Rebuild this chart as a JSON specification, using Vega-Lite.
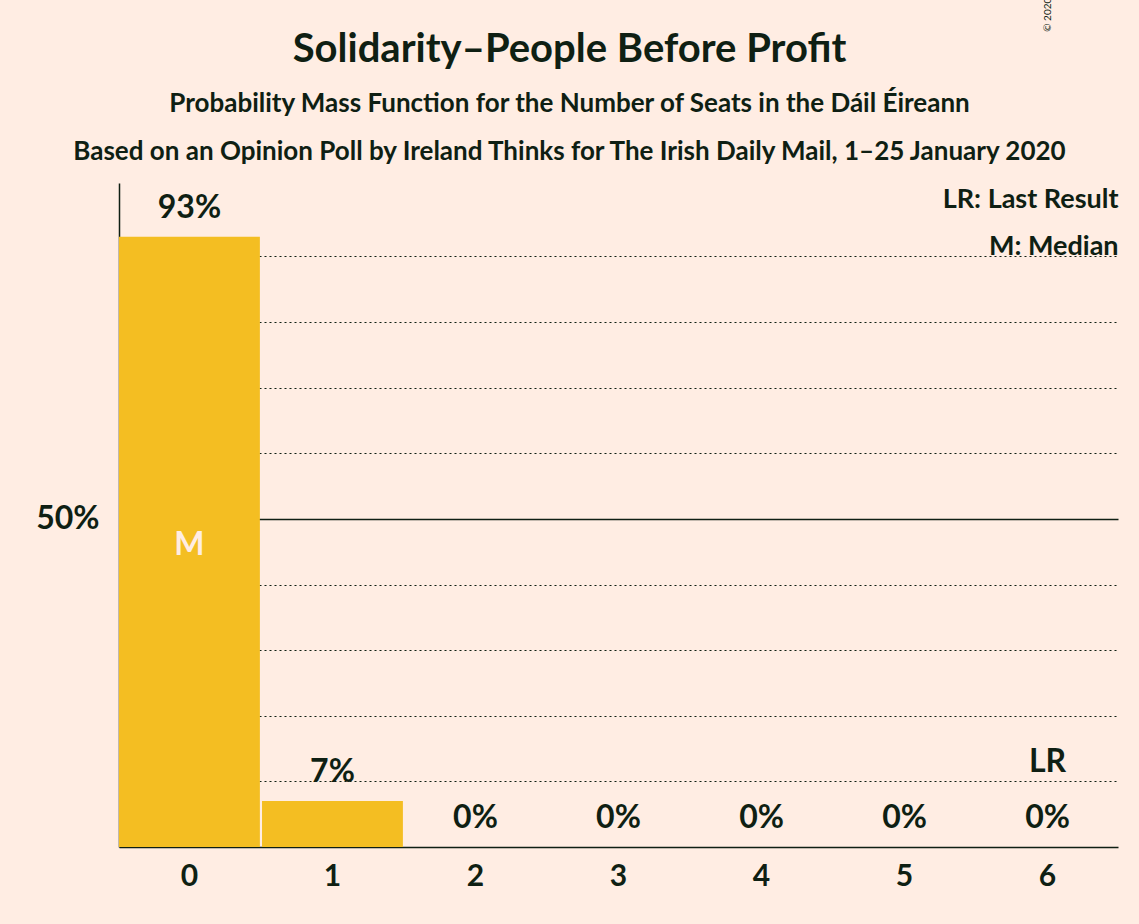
{
  "$schema": "https://vega.github.io/schema/vega-lite/v6.json",
  "width": 999,
  "height": 664,
  "autosize": "none",
  "padding": {"left": 119, "top": 183, "right": 21, "bottom": 77},
  "background": "#FFEDE3",
  "datasets": {
    "seats": [
      {"seats": "0", "p": 0.93, "label": "93%", "median": "M"},
      {"seats": "1", "p": 0.07, "label": "7%", "median": ""},
      {"seats": "2", "p": 0.0, "label": "0%", "median": ""},
      {"seats": "3", "p": 0.0, "label": "0%", "median": ""},
      {"seats": "4", "p": 0.0, "label": "0%", "median": ""},
      {"seats": "5", "p": 0.0, "label": "0%", "median": ""},
      {"seats": "6", "p": 0.0, "label": "0%", "median": ""}
    ],
    "legend": [
      {"seats": "6", "y": 0.986, "text": "LR: Last Result"},
      {"seats": "6", "y": 0.914, "text": "M: Median"}
    ],
    "lr": [{"seats": "6", "y": 0.13, "text": "LR"}],
    "copy": [{"seats": "6", "y": 1.116, "text": "© 2020 Filip van Laenen"}],
    "titles": [
      {"seats": "3", "y": 1.215, "size": 40, "text": "Solidarity–People Before Profit"},
      {"seats": "3", "y": 1.133, "size": 26, "text": "Probability Mass Function for the Number of Seats in the Dáil Éireann"},
      {"seats": "3", "y": 1.059, "size": 26, "text": "Based on an Opinion Poll by Ireland Thinks for The Irish Daily Mail, 1–25 January 2020"}
    ]
  },
  "encoding": {
    "x": {
      "field": "seats",
      "type": "ordinal",
      "sort": ["0", "1", "2", "3", "4", "5", "6"],
      "scale": {"domain": ["0", "1", "2", "3", "4", "5", "6"], "paddingInner": 0.015, "paddingOuter": 0},
      "axis": {"title": null, "labelAngle": 0, "ticks": false, "labelFont": "Lato", "labelFontSize": 30, "labelFontWeight": "bold", "labelColor": "#0F1F13", "labelPadding": 14, "domainColor": "#0F1F13", "domainWidth": 1.5}
    }
  },
  "layer": [
    {
      "data": {"name": "seats"},
      "mark": {"type": "bar", "color": "#F4BE22"},
      "encoding": {
        "y": {
          "field": "p",
          "type": "quantitative",
          "scale": {"domain": [0, 1.012], "nice": false},
          "axis": {
            "title": null,
            "values": [0.1, 0.2, 0.3, 0.4, 0.5, 0.6, 0.7, 0.8, 0.9],
            "labelExpr": "datum.value == 0.5 ? '50%' : ''",
            "ticks": false,
            "labelFont": "Lato",
            "labelFontSize": 32,
            "labelFontWeight": "bold",
            "labelColor": "#0F1F13",
            "labelPadding": 20,
            "domainColor": "#0F1F13",
            "domainWidth": 1.5,
            "grid": true,
            "gridColor": "#0F1F13",
            "gridWidth": {"condition": {"test": "datum.value == 0.5", "value": 1.5}, "value": 1.2},
            "gridDash": {"condition": {"test": "datum.value == 0.5", "value": []}, "value": [2, 3]}
          }
        }
      }
    },
    {
      "data": {"name": "seats"},
      "mark": {"type": "text", "font": "Lato", "fontSize": 32, "fontWeight": "bold", "color": "#0F1F13", "baseline": "bottom", "dy": -12},
      "encoding": {"y": {"field": "p", "type": "quantitative"}, "text": {"field": "label"}}
    },
    {
      "data": {"name": "seats"},
      "mark": {"type": "text", "font": "Lato", "fontSize": 32, "fontWeight": "bold", "color": "#FFEDE3", "baseline": "middle"},
      "encoding": {"y": {"datum": 0.46, "type": "quantitative"}, "text": {"field": "median"}}
    },
    {
      "data": {"name": "legend"},
      "mark": {"type": "text", "font": "Lato", "fontSize": 27, "fontWeight": "bold", "color": "#0F1F13", "align": "right", "baseline": "middle", "dx": 71},
      "encoding": {"y": {"field": "y", "type": "quantitative"}, "text": {"field": "text"}}
    },
    {
      "data": {"name": "lr"},
      "mark": {"type": "text", "font": "Lato", "fontSize": 32, "fontWeight": "bold", "color": "#0F1F13", "baseline": "middle"},
      "encoding": {"y": {"field": "y", "type": "quantitative"}, "text": {"field": "text"}}
    },
    {
      "data": {"name": "copy"},
      "mark": {"type": "text", "font": "Lato", "fontSize": 10, "color": "#0F1F13", "angle": 270, "align": "left", "baseline": "middle", "dx": 83},
      "encoding": {"y": {"field": "y", "type": "quantitative"}, "text": {"field": "text"}}
    },
    {
      "data": {"name": "titles"},
      "mark": {"type": "text", "font": "Lato", "fontWeight": "bold", "color": "#0F1F13", "baseline": "middle", "dx": -49},
      "encoding": {"y": {"field": "y", "type": "quantitative"}, "text": {"field": "text"}, "size": {"field": "size", "type": "quantitative", "scale": null}}
    }
  ],
  "config": {"view": {"stroke": null}}
}
